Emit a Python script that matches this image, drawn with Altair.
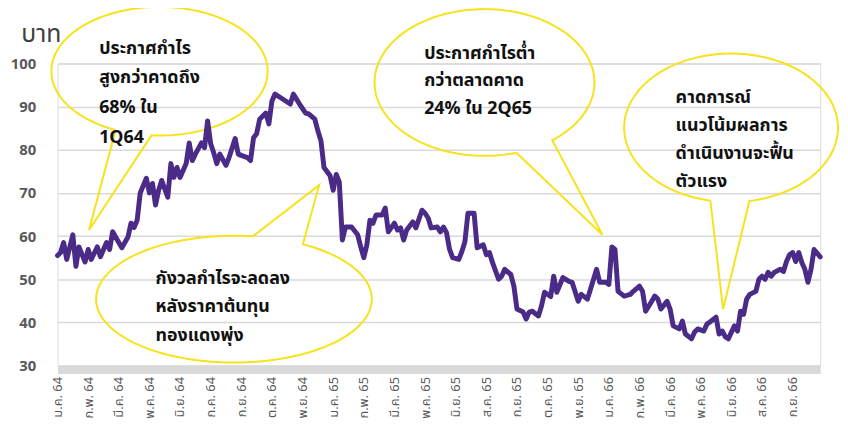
import json
import altair as alt
import numpy as np
import pandas as pd

# trading-day index (0..249) and price (baht)
days = [0, 1, 2, 3, 5, 6, 7, 9, 10, 11, 13, 14, 16, 17, 18, 20, 21, 23, 24, 25,
        26, 27, 29, 30, 31, 32, 33, 34, 36, 37, 38, 39, 40, 42, 43, 44, 45, 47, 48, 49,
        50, 51, 52, 53, 55, 56, 58, 59, 60, 62, 63, 64, 65, 66, 68, 69, 70, 71, 73, 76,
        77, 79, 81, 82, 84, 85, 86, 87, 89, 90, 91, 92, 93, 94, 96, 98, 99, 100, 101, 102,
        103, 104, 106, 107, 108, 110, 111, 112, 113, 114, 116, 117, 119, 120, 121, 122, 124, 125, 126, 127,
        128, 129, 131, 132, 133, 134, 136, 137, 139, 140, 141, 142, 144, 145, 146, 148, 149, 150, 152, 153,
        154, 155, 157, 158, 159, 161, 162, 163, 165, 167, 168, 170, 171, 173, 174, 176, 177, 179, 180, 181,
        182, 183, 185, 187, 188, 190, 191, 192, 194, 195, 196, 197, 199, 200, 201, 203, 204, 205, 207, 208,
        209, 211, 212, 213, 215, 216, 217, 218, 219, 221, 222, 223, 224, 225, 226, 228, 229, 230, 231, 232,
        233, 234, 236, 237, 238, 239, 240, 241, 242, 243, 244, 245, 246, 247, 249]
prices = [55.5, 56.2, 58.5, 54.6, 60.3, 53.0, 57.5, 54.0, 56.9, 54.6, 57.5, 55.2, 58.5, 56.9, 61.0, 58.5, 57.3, 59.8, 63.0, 62.0,
          63.7, 70.0, 73.4, 70.0, 72.2, 67.2, 70.6, 72.9, 69.0, 76.8, 73.6, 75.9, 73.6, 76.8, 81.6, 77.5, 79.0, 81.6, 80.5, 86.7,
          81.4, 79.3, 76.8, 79.0, 76.4, 78.2, 82.6, 79.0, 78.7, 78.2, 77.5, 82.8, 83.7, 87.1, 88.5, 86.0, 91.3, 92.9, 92.0, 90.6,
          92.9, 90.6, 88.5, 88.3, 87.1, 84.4, 82.1, 75.9, 74.0, 70.6, 74.3, 72.5, 59.1, 62.1, 62.1, 60.3, 57.5, 55.0, 58.0, 63.7,
          63.0, 64.9, 64.9, 66.5, 61.0, 63.0, 61.4, 61.9, 59.1, 61.4, 63.3, 61.9, 66.0, 65.3, 64.2, 61.9, 62.1, 61.0, 62.1, 60.8,
          56.9, 55.0, 54.6, 56.4, 58.7, 65.3, 65.3, 57.3, 58.0, 55.7, 56.2, 53.9, 50.0, 50.7, 52.3, 51.1, 48.4, 43.1, 42.4, 40.8,
          42.4, 42.6, 41.5, 43.8, 47.0, 46.0, 50.7, 47.0, 50.4, 49.5, 49.3, 44.9, 46.5, 45.4, 47.7, 52.3, 49.3, 49.3, 48.8, 57.5,
          56.9, 47.2, 46.1, 46.5, 47.2, 48.4, 47.2, 42.6, 44.9, 46.1, 45.4, 43.1, 44.9, 43.1, 39.2, 38.5, 40.3, 37.3, 36.2, 37.8,
          38.5, 38.0, 39.6, 40.1, 41.2, 37.3, 38.0, 36.7, 36.2, 39.2, 38.0, 42.6, 41.9, 45.4, 46.5, 47.2, 50.0, 50.7, 50.0, 51.6,
          50.7, 51.6, 52.3, 51.8, 54.1, 55.7, 56.2, 54.1, 56.2, 53.9, 52.3, 49.3, 52.3, 56.9, 55.2]

x_labels = ["ม.ค. 64", "ก.พ. 64", "มี.ค. 64", "พ.ค. 64", "มิ.ย. 64", "ก.ค. 64", "ก.ย. 64",
            "ต.ค. 64", "พ.ย. 64", "ม.ค. 65", "ก.พ. 65", "มี.ค. 65", "พ.ค. 65", "มิ.ย. 65",
            "ส.ค. 65", "ก.ย. 65", "ต.ค. 65", "พ.ย. 65", "ม.ค. 66", "ก.พ. 66", "มี.ค. 66",
            "พ.ค. 66", "มิ.ย. 66", "ส.ค. 66", "ก.ย. 66"]
label_step = 10
y_ticks = [30, 40, 50, 60, 70, 80, 90, 100]

# callout texts
notes = [
    ["ประกาศกำไร", "สูงกว่าคาดถึง", "68% ใน", "1Q64"],
    ["กังวลกำไรจะลดลง", "หลังราคาต้นทุน", "ทองแดงพุ่ง"],
    ["ประกาศกำไรต่ำ", "กว่าตลาดคาด", "24% ใน 2Q65"],
    ["คาดการณ์", "แนวโน้มผลการ", "ดำเนินงานจะฟื้น", "ตัวแรง"],
]

FONT = "Noto Sans Thai, Noto Sans, sans-serif"

assert len(days) == len(prices)
line_df = pd.DataFrame({"day": days, "price": prices})

# ---- callout geometry in data units (day, price) ----
bubble_specs = [
    dict(c=(33.3, 98.2), rx=35.3, ry=14.9, a=(17.5, 83.2), b=(30.7, 83.5), tip=(10.3, 61.4),
         tx=13.6, ty=[103.4, 96.6, 89.7, 82.8]),
    dict(c=(57.6, 45.4), rx=45.0, ry=14.7, a=(63.7, 59.8), b=(79.9, 58.0), tip=(85.4, 71.8),
         tx=32.0, ty=[50.0, 43.5, 36.9]),
    dict(c=(139.4, 95.6), rx=35.9, ry=17.0, a=(150.1, 78.9), b=(161.7, 82.1), tip=(177.9, 60.3),
         tx=119.7, ty=[102.3, 95.9, 89.4]),
    dict(c=(219.9, 85.1), rx=34.9, ry=17.2, a=(213.1, 68.1), b=(226.1, 67.6), tip=(217.3, 43.1),
         tx=201.8, ty=[92.0, 85.5, 79.1, 72.5]),
]

rows = []
text_rows = []
for k, s in enumerate(bubble_specs):
    cx, cy = s["c"]
    rx, ry = s["rx"], s["ry"]
    ta = np.arctan2((s["a"][1] - cy) / ry, (s["a"][0] - cx) / rx)
    tb = np.arctan2((s["b"][1] - cy) / ry, (s["b"][0] - cx) / rx)
    delta = (tb - ta) % (2 * np.pi)
    if delta < np.pi:
        delta -= 2 * np.pi
    ts = ta + np.linspace(0, delta, 160)
    xs = list(cx + rx * np.cos(ts)) + [s["tip"][0], cx + rx * np.cos(ta)]
    ys = list(cy + ry * np.sin(ts)) + [s["tip"][1], cy + ry * np.sin(ta)]
    for i, (xv, yv) in enumerate(zip(xs, ys)):
        rows.append({"bubble": k, "idx": i, "day": xv, "price": yv})
    for txt, yv in zip(notes[k], s["ty"]):
        text_rows.append({"day": s["tx"], "price": yv, "text": txt})

bub_df = pd.DataFrame(rows)
txt_df = pd.DataFrame(text_rows)

x_scale = alt.Scale(domain=[0, 249], nice=False, zero=False)
y_scale = alt.Scale(domain=[30, 100], nice=False, zero=False)

label_expr = json.dumps(x_labels, ensure_ascii=False) + f"[round(datum.value/{label_step})]"

x_axis = alt.Axis(
    values=[i * label_step for i in range(len(x_labels))],
    labelExpr=label_expr, labelAngle=270, labelFontSize=13, labelColor="#595959",
    labelFont=FONT, ticks=False, grid=False, domain=True, domainColor="#d9d9d9",
    domainWidth=8, offset=4, labelPadding=7, title=None, labelOverlap=False,
)
y_axis = alt.Axis(
    values=y_ticks, labelFontSize=15, labelFontWeight="bold", labelColor="#595959",
    labelFont=FONT, labelPadding=22, ticks=False, domain=False, grid=True,
    gridColor="#d9d9d9", gridWidth=1.5, title="บาท", titleAngle=0, titleX=-37,
    titleY=-22, titleAlign="left", titleBaseline="alphabetic", titleFontSize=25,
    titleFontWeight="normal", titleColor="#404040", titleFont=FONT,
)

X = alt.X("day:Q", scale=x_scale, axis=x_axis)
Y = alt.Y("price:Q", scale=y_scale, axis=y_axis)

bubbles = alt.Chart(bub_df).mark_line(
    stroke="#f7e21b", strokeWidth=2, clip=False, strokeJoin="miter"
).encode(x=X, y=Y, detail="bubble:N", order="idx:Q")

price_line = alt.Chart(line_df).mark_line(
    stroke="#4a2b88", strokeWidth=5, strokeJoin="round", strokeCap="round"
).encode(x=X, y=Y)

texts = alt.Chart(txt_df).mark_text(
    align="left", baseline="middle", font=FONT, fontSize=18, fontWeight="bold",
    color="#111111", clip=False
).encode(x=X, y=Y, text="text:N")

chart = alt.layer(bubbles, price_line, texts).properties(
    width=770, height=305,
    padding={"left": 50, "top": 54, "right": 20, "bottom": 60},
    autosize=alt.AutoSizeParams(type="none"),
).configure_view(stroke=None).configure(background="white")

chart.save("out.html", embed_options={"renderer": "svg", "actions": False})
